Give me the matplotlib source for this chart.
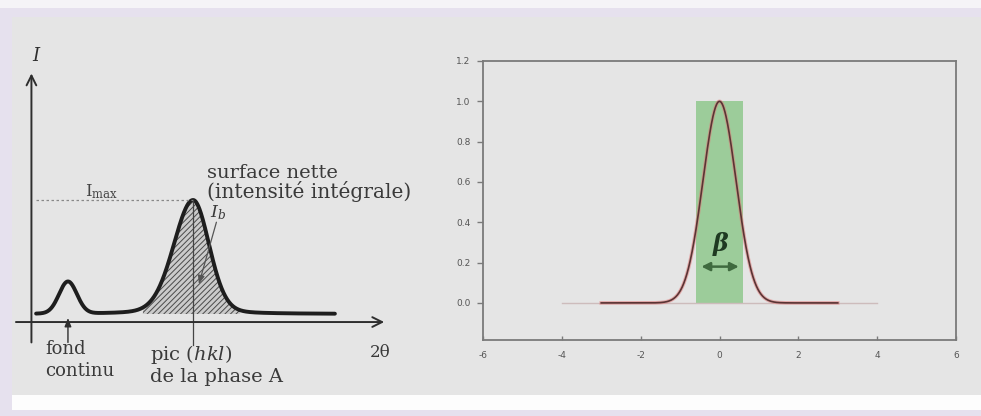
import matplotlib.pyplot as plt
import numpy as np
from matplotlib.patches import Rectangle

# left: schematic diffractogram (2theta in arbitrary units, intensity normalised to I_max)
scan_start, scan_end = 1.2, 78.1
background_level = 0.066
peak_pos = [9.4, 41.6]
peak_height = [0.262, 0.934]
peak_hwhm_left = [2.7, 5.9]
peak_hwhm_right = [2.7, 4.9]
peak_lorentz_frac = [0.0, 0.15]
hatch_start, hatch_end = 28.7, 53.7
i_max = 1.0

# right: gaussian profile with its integral breadth band
gauss_center = 0.0
gauss_height = 1.0
gauss_sigma = 0.42
profile_range = (-3.0, 3.0)
zero_line_range = (-4.0, 4.0)
beta_band = (-0.6, 0.6)
beta_arrow_y = 0.18
y_ticks = [0.0, 0.2, 0.4, 0.6, 0.8, 1.0, 1.2]
x_ticks = [-6, -4, -2, 0, 2, 4, 6]

plt.rcParams['mathtext.fontset'] = 'dejavuserif'
plt.rcParams['hatch.linewidth'] = 0.7


def peak_profile(x, pos, height, hw_l, hw_r, eta):
    hw = np.where(x < pos, hw_l, hw_r)
    u = (x - pos) / hw
    gauss = np.exp(-np.log(2) * u ** 2)
    lorentz = 1.0 / (1.0 + u ** 2)
    return height * (eta * lorentz + (1 - eta) * gauss)


def diffractogram(x):
    y = np.full_like(x, background_level)
    for p, h, hl, hr, eta in zip(peak_pos, peak_height, peak_hwhm_left,
                                 peak_hwhm_right, peak_lorentz_frac):
        y += peak_profile(x, p, h, hl, hr, eta)
    return y


W, H = 981, 416
fig = plt.figure(figsize=(W / 100, H / 100), dpi=100)
fig.patch.set_facecolor('#e6e1ee')

# page background
fig.add_artist(Rectangle((0, 1 - 8 / H), 1, 8 / H, transform=fig.transFigure,
                         facecolor='#f5f4f7', edgecolor='none', zorder=-3))
fig.add_artist(Rectangle((12 / W, 1 - 395 / H), 1, (395 - 17) / H,
                         transform=fig.transFigure, facecolor='#e5e5e5',
                         edgecolor='none', zorder=-2))
fig.add_artist(Rectangle((12 / W, 1 - 410 / H), 1, 15 / H,
                         transform=fig.transFigure, facecolor='#fdfdfd',
                         edgecolor='none', zorder=-2))

# ---------------- left panel ----------------
ax1 = fig.add_axes([12 / W, 1 - 395 / H, 408 / W, 378 / H])
ax1.set_xlim(-5.0, 100.0)
ax1.set_ylim(-0.598, 2.5)
ax1.axis('off')
ax1.patch.set_alpha(0)

ink = '#2e2e2e'
serif = 'DejaVu Serif'

ax1.annotate('', xy=(0, 2.06), xytext=(0, -0.19),
             arrowprops=dict(arrowstyle='->,head_length=0.7,head_width=0.35',
                             lw=1.4, color=ink))
ax1.annotate('', xy=(91.5, 0), xytext=(-4.7, 0),
             arrowprops=dict(arrowstyle='->,head_length=0.7,head_width=0.35',
                             lw=1.4, color=ink))

x = np.linspace(scan_start, scan_end, 800)
y = diffractogram(x)

xh = np.linspace(hatch_start, hatch_end, 400)
ax1.fill_between(xh, background_level, diffractogram(xh), facecolor='#cbcbcb',
                 edgecolor='#4a4a4a', hatch='//////', lw=0)
ax1.plot(x, y, color='#1e1e1e', lw=2.8, solid_capstyle='round')

ax1.plot([scan_start, peak_pos[1]], [i_max, i_max], ls=(0, (2, 2)),
         color='#888888', lw=0.9)
ax1.plot([peak_pos[1], peak_pos[1]], [-0.19, i_max], color='#444444', lw=0.9)

ax1.annotate('', xy=(peak_pos[0], background_level - 0.01),
             xytext=(peak_pos[0], -0.19),
             arrowprops=dict(arrowstyle='-|>,head_length=0.5,head_width=0.2',
                             lw=1.0, color=ink))
ax1.annotate('', xy=(42.9, 0.29), xytext=(47.8, 0.84),
             arrowprops=dict(arrowstyle='-|>,head_length=0.5,head_width=0.2',
                             lw=0.9, color='#555555'))

ax1.text(1.4, 2.18, r'$I$', fontsize=13, color=ink, ha='center', va='center')
ax1.text(13.8, 1.07, r'I$_{\rm max}$', fontsize=12, family=serif,
         color='#444444', va='center')
ax1.text(45.2, 1.225, 'surface nette', fontsize=14, family=serif,
         color='#3a3a3a', va='center', clip_on=True)
ax1.text(45.2, 1.07, '(intensité intégrale)', fontsize=14.5, family=serif,
         color='#3a3a3a', va='center', clip_on=True)
ax1.text(46.0, 0.90, r'$I_b$', fontsize=12.5, color='#3a3a3a', va='center')
ax1.text(3.5, -0.22, 'fond', fontsize=13, family=serif, color='#3a3a3a',
         va='center')
ax1.text(3.5, -0.40, 'continu', fontsize=13, family=serif, color='#3a3a3a',
         va='center')
ax1.text(30.5, -0.27, r'pic $(hkl)$', fontsize=14, family=serif,
         color='#3a3a3a', va='center')
ax1.text(30.5, -0.45, 'de la phase A', fontsize=14, family=serif,
         color='#3a3a3a', va='center')
ax1.text(87.1, -0.25, '2θ', fontsize=12, family=serif, color='#3a3a3a',
         va='center')

# ---------------- right panel ----------------
ax2 = fig.add_axes([483 / W, 1 - 340 / H, (956 - 483) / W, (340 - 61) / H])
ax2.patch.set_alpha(0)
ax2.set_xlim(-6, 6)
ax2.set_ylim(-0.184, 1.2)

ax2.bar(np.mean(beta_band), gauss_height, width=beta_band[1] - beta_band[0],
        bottom=0, color='#9ccc9a', edgecolor='none', zorder=1)
ax2.plot(zero_line_range, [0, 0], color='#cdbcbc', lw=1.0, zorder=2)

xg = np.linspace(profile_range[0], profile_range[1], 600)
yg = gauss_height * np.exp(-(xg - gauss_center) ** 2 / (2 * gauss_sigma ** 2))
ax2.plot(xg, yg, color='#e07a7a', lw=2.6, alpha=0.55, zorder=3)
ax2.plot(xg, yg, color='#5a3434', lw=1.2, zorder=4)

ax2.annotate('', xy=(0.56, beta_arrow_y), xytext=(-0.53, beta_arrow_y),
             arrowprops=dict(arrowstyle='<|-|>,head_length=0.5,head_width=0.25',
                             lw=1.8, color='#3f6a3f'), zorder=5)
ax2.text(0.02, 0.29, 'β', fontsize=17, family=serif, fontstyle='italic',
         fontweight='bold', color='#1f3a22', ha='center', va='center',
         zorder=5)

ax2.set_yticks(y_ticks)
ax2.set_yticklabels([f'{v:.1f}' for v in y_ticks])
ax2.set_xticks(x_ticks)
ax2.set_xticklabels([str(v) for v in x_ticks])
for s in ax2.spines.values():
    s.set_color('#7a7a7a')
    s.set_linewidth(1.3)
ax2.tick_params(axis='y', direction='out', length=4, width=1, color='#7a7a7a',
                labelsize=6.5, labelcolor='#555555', pad=5)
ax2.tick_params(axis='x', direction='in', length=3, width=1, color='#7a7a7a',
                labelsize=6.5, labelcolor='#555555', pad=8)

fig.savefig('out.png', dpi=100, facecolor=fig.get_facecolor())
